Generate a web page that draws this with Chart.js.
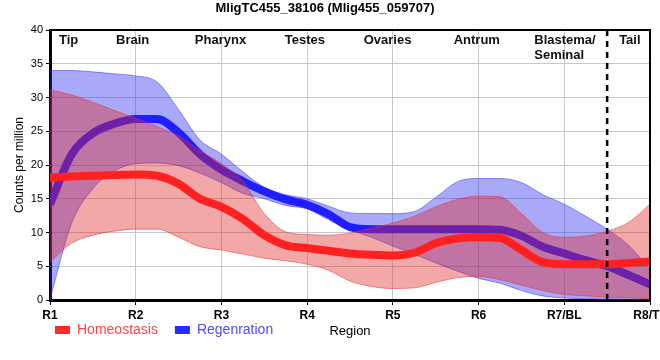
<!DOCTYPE html>
<html lang="en">
<head>
    <meta charset="UTF-8">
    <script src="https://cdn.jsdelivr.net/npm/chart.js"></script>
    <title>MligTC455_38106</title>
    <style>
      body { margin: 0; background: #fff; }
      #wrap { width: 660px; height: 360px; }
    </style>
</head>
<body>
    <div id="wrap">
      <canvas id="myChart"></canvas>
    </div>

    <script>
      // position along the body (0 = R1 ... 7 = R8/TL), read at quarter steps
      const xPos = [0, 0.25, 0.5, 0.75, 1, 1.25, 1.5, 1.75, 2, 2.25, 2.5, 2.75, 3, 3.25, 3.5,
                    3.75, 4, 4.25, 4.5, 4.75, 5, 5.25, 5.5, 5.75, 6, 6.25, 6.5, 6.75, 7];
      const tickLabels = ['R1', 'R2', 'R3', 'R4', 'R5', 'R6', 'R7/BL', 'R8/TL'];

      const homMean  = [18.1, 18.3, 18.4, 18.5, 18.6, 18.4, 17.2, 15.0, 13.8, 12.0, 9.6, 8.1, 7.7, 7.3, 6.9,
                        6.7, 6.6, 7.0, 8.4, 9.1, 9.3, 9.2, 7.4, 5.6, 5.3, 5.3, 5.3, 5.5, 5.7];
      const homUpper = [31.1, 30.4, 29.3, 28.1, 26.9, 25.7, 24.3, 22.1, 20.2, 17.6, 12.8, 10.1, 9.7, 9.6, 9.9,
                        10.6, 11.4, 12.4, 13.8, 14.9, 15.4, 15.3, 12.8, 10.0, 9.3, 9.5, 10.2, 11.5, 14.2];
      const homLower = [5.6, 8.4, 9.6, 10.2, 10.5, 10.5, 9.3, 7.9, 7.4, 6.8, 6.2, 5.8, 5.3, 4.4, 2.8,
                        2.0, 1.7, 1.8, 2.6, 3.3, 3.5, 3.0, 2.2, 1.4, 0.8, 0.6, 0.4, 0.3, 0.2];

      const regMean  = [14.2, 21.5, 24.7, 26.1, 26.8, 26.8, 24.8, 21.6, 19.3, 17.6, 16.1, 14.9, 14.1, 12.7, 10.8,
                        10.5, 10.5, 10.5, 10.5, 10.5, 10.5, 10.4, 9.5, 7.9, 6.9, 5.9, 5.0, 3.7, 2.3];
      const regUpper = [34.0, 34.0, 33.8, 33.5, 33.2, 32.3, 28.2, 23.7, 21.6, 19.0, 16.7, 15.6, 15.0, 13.9, 12.9,
                        12.8, 12.8, 13.1, 15.2, 17.5, 18.0, 18.0, 17.4, 15.6, 14.2, 12.4, 10.5, 8.1, 4.5];
      const regLower = [0.1, 11.3, 16.5, 19.1, 20.2, 20.3, 19.9, 18.8, 17.4, 15.8, 15.0, 14.0, 13.5, 11.9, 10.4,
                        9.3, 8.0, 6.8, 5.5, 4.3, 3.2, 2.5, 1.4, 0.6, 0.3, 0.2, 0.1, 0.1, 0.1];

      // region names drawn along the top (left edge in x units)
      const regionNames = ['Tip', 'Brain', 'Pharynx', 'Testes', 'Ovaries', 'Antrum', 'Blastema/\nSeminal', 'Tail'];
      const regionLeft  = [0.105, 0.77, 1.69, 2.74, 3.66, 4.71, 5.65, 6.64];
      const cutPos = 6.5;

      const pts = (arr) => arr.map((y, i) => ({ x: xPos[i], y: y }));

      const band = (arr, line, fillCol, fillTo) => ({
        data: pts(arr),
        borderColor: line,
        borderWidth: 1,
        backgroundColor: fillCol,
        fill: fillTo,
        pointRadius: 0
      });

      const extras = {
        id: 'extras',
        afterLayout(chart) {
          // legend sits on the same row as the x axis title
          chart.legend.left = 38;
          chart.legend.top = 306;
        },
        afterDatasetsDraw(chart) {
          const { ctx, chartArea: a, scales } = chart;
          ctx.save();
          // thin frame on top and right
          ctx.strokeStyle = '#000';
          ctx.lineWidth = 2;
          ctx.beginPath();
          ctx.moveTo(a.left, a.top);
          ctx.lineTo(a.right, a.top);
          ctx.lineTo(a.right, a.bottom);
          ctx.stroke();
          // dashed cut between R7 and R8
          const xc = scales.x.getPixelForValue(cutPos);
          ctx.lineWidth = 2.5;
          ctx.setLineDash([6, 5]);
          ctx.beginPath();
          ctx.moveTo(xc, a.top);
          ctx.lineTo(xc, a.bottom + 4);
          ctx.stroke();
          ctx.restore();
        },
        afterDraw(chart) {
          const { ctx, chartArea: a, scales } = chart;
          ctx.save();
          ctx.fillStyle = '#111';
          ctx.font = 'bold 13px "Liberation Sans", Arial, sans-serif';
          ctx.textAlign = 'left';
          ctx.textBaseline = 'middle';
          regionNames.forEach((name, i) => {
            const x = scales.x.getPixelForValue(regionLeft[i]);
            name.split('\n').forEach((ln, j) => ctx.fillText(ln, x, a.top + 10 + j * 15));
          });
          ctx.restore();
        }
      };

      Chart.defaults.font.family = '"Liberation Sans", Arial, sans-serif';
      Chart.defaults.color = '#000';

      new Chart(document.getElementById('myChart'), {
        type: 'line',
        data: {
          datasets: [
            { label: 'Homeostasis', data: pts(homMean), borderColor: '#ff2020', borderWidth: 8,
              pointRadius: 0, fill: false },
            band(homUpper, 'rgba(225,60,60,0.55)', 'rgba(225,38,38,0.4)', '+1'),
            band(homLower, 'rgba(225,60,60,0.55)', 'rgba(0,0,0,0)', false),
            { label: 'Regenration', data: pts(regMean), borderColor: '#1e1eff', borderWidth: 8,
              pointRadius: 0, fill: false },
            band(regUpper, 'rgba(60,60,240,0.55)', 'rgba(40,40,240,0.4)', '+1'),
            band(regLower, 'rgba(60,60,240,0.55)', 'rgba(0,0,0,0)', false)
          ]
        },
        options: {
          responsive: true,
          maintainAspectRatio: false,
          animation: false,
          layout: { padding: { top: 0, right: 10, bottom: -20.3, left: 0 } },
          elements: { line: { cubicInterpolationMode: 'monotone' } },
          plugins: {
            title: {
              display: true,
              text: 'MligTC455_38106 (Mlig455_059707)',
              font: { size: 13, weight: 'bold' },
              color: '#000',
              padding: { top: 1, bottom: 13.4 }
            },
            legend: {
              position: 'bottom',
              align: 'start',
              labels: {
                boxWidth: 15,
                boxHeight: 8,
                padding: 17,
                font: { size: 14 },
                generateLabels: () => [
                  { text: 'Homeostasis', fillStyle: '#ff2a2a', strokeStyle: '#ff2a2a', lineWidth: 0,
                    fontColor: '#ff4545', datasetIndex: 0, hidden: false },
                  { text: 'Regenration', fillStyle: '#2a2aff', strokeStyle: '#2a2aff', lineWidth: 0,
                    fontColor: '#4b4bff', datasetIndex: 3, hidden: false }
                ]
              }
            },
            tooltip: { enabled: false }
          },
          scales: {
            x: {
              type: 'linear',
              min: 0,
              max: 7,
              ticks: {
                stepSize: 1,
                padding: 3,
                font: { size: 12, weight: 'bold' },
                color: '#000',
                callback: (v) => tickLabels[v] ?? ''
              },
              grid: { color: '#c8c8c8', tickColor: '#000', tickLength: 5 },
              border: { display: true, color: '#000', width: 3 },
              title: {
                display: true,
                text: 'Region',
                font: { size: 13 },
                color: '#000',
                padding: { top: -1.7, bottom: 0 }
              },
              afterFit: (s) => { s.paddingRight = 0; }
            },
            y: {
              min: 0,
              max: 40,
              ticks: { stepSize: 5, padding: 3, font: { size: 11 }, color: '#000' },
              grid: { color: '#c8c8c8', tickColor: '#000', tickLength: 4 },
              border: { display: true, color: '#000', width: 3 },
              title: {
                display: true,
                text: 'Counts per million',
                font: { size: 12 },
                color: '#000',
                padding: { top: 12.8, bottom: 0 }
              },
              afterFit: (s) => { s.width = 50; }
            }
          }
        },
        plugins: [extras]
      });
    </script>
</body>
</html>
